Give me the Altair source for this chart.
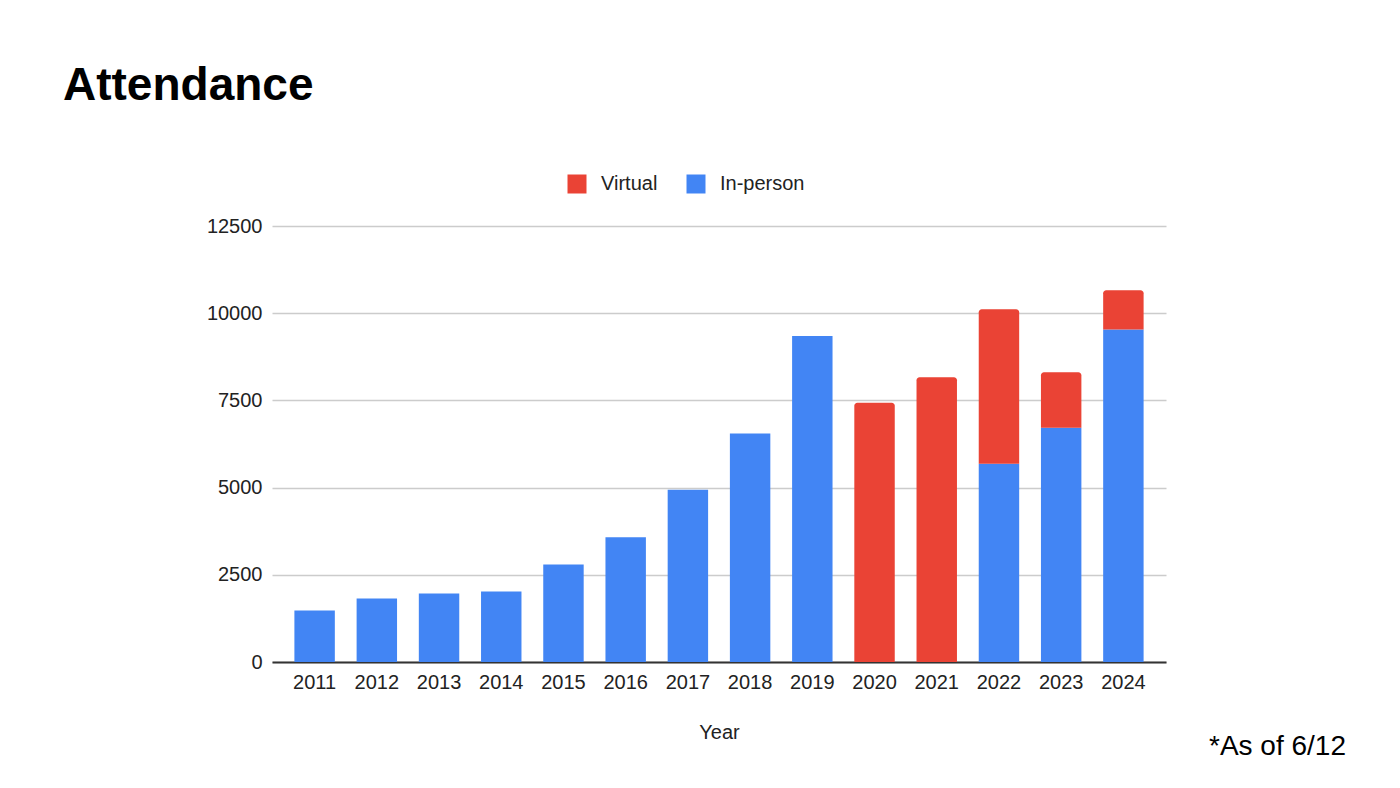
import altair as alt
import pandas as pd

years = ["2011", "2012", "2013", "2014", "2015", "2016", "2017",
         "2018", "2019", "2020", "2021", "2022", "2023", "2024"]
in_person = [1480, 1820, 1965, 2020, 2795, 3575, 4940,
             6550, 9345, 0, 0, 5685, 6715, 9535]
virtual = [0, 0, 0, 0, 0, 0, 0,
           0, 0, 7430, 8165, 4430, 1590, 1125]
series_names = ["Virtual", "In-person"]
series_colors = ["#EA4335", "#4285F4"]
y_ticks = [0, 2500, 5000, 7500, 10000, 12500]
chart_title = "Attendance"
footnote = "*As of 6/12"

rows = []
for y, ip, v in zip(years, in_person, virtual):
    if ip > 0:
        rows.append({"Year": y, "Series": "In-person", "Value": ip, "order": 0})
    if v > 0:
        rows.append({"Year": y, "Series": "Virtual", "Value": v, "order": 1})
df = pd.DataFrame(rows)

FONT = "Liberation Sans"

x_enc = alt.X("Year:N", sort=years,
              scale=alt.Scale(paddingInner=0.35, paddingOuter=0.36),
              axis=alt.Axis(title="Year", labelAngle=0, ticks=False,
                            domainColor="#333333", domainWidth=2,
                            labelFont=FONT, labelFontSize=20, labelColor="#222222",
                            labelPadding=10, titleFont=FONT, titleFontSize=20,
                            titleFontWeight="normal", titleColor="#222222",
                            titlePadding=30))
y_enc = alt.Y("y0:Q",
              scale=alt.Scale(domain=[0, 12500], nice=False),
              axis=alt.Axis(title=None, values=y_ticks, ticks=False, domain=False,
                            format="d",
                            gridColor="#cccccc", gridWidth=1.5,
                            labelFont=FONT, labelFontSize=20, labelColor="#222222",
                            labelPadding=10))
color_enc = alt.Color("Series:N",
                      scale=alt.Scale(domain=series_names, range=series_colors),
                      legend=alt.Legend(title=None, orient="none", direction="horizontal",
                                        legendX=295, legendY=-52,
                                        symbolType="square", symbolSize=361,
                                        symbolStrokeWidth=0, symbolOpacity=1,
                                        labelFont=FONT, labelFontSize=20,
                                        labelColor="#222222", labelOffset=14,
                                        columnPadding=28))

base = alt.Chart(df).transform_stack(
    stack="Value", as_=["y0", "y1"], groupby=["Year"],
    sort=[alt.SortField("order", order="ascending")],
).encode(x=x_enc, y=y_enc, y2="y1:Q", color=color_enc)

inperson_bars = base.transform_filter(alt.datum.Series == "In-person").mark_bar()
virtual_bars = base.transform_filter(alt.datum.Series == "Virtual").mark_bar(
    cornerRadiusTopLeft=3, cornerRadiusTopRight=3)

note = alt.Chart(pd.DataFrame({"t": [footnote]})).mark_text(
    font=FONT, fontSize=28, align="right", baseline="alphabetic", color="#000000"
).encode(text="t:N", x=alt.value(1074), y=alt.value(529))

chart = alt.layer(inperson_bars, virtual_bars, note).properties(
    width=894, height=436,
    padding={"left": 264, "top": 218, "right": 226, "bottom": 118},
    autosize=alt.AutoSizeParams(type="none"),
    title=alt.Title(chart_title, anchor="start", frame="group", font=FONT,
                    fontSize=46, fontWeight="bold", color="#000000",
                    dx=-209, dy=-60),
).configure_view(stroke=None)

chart.save("out.html", embed_options={"renderer": "svg", "actions": False})
